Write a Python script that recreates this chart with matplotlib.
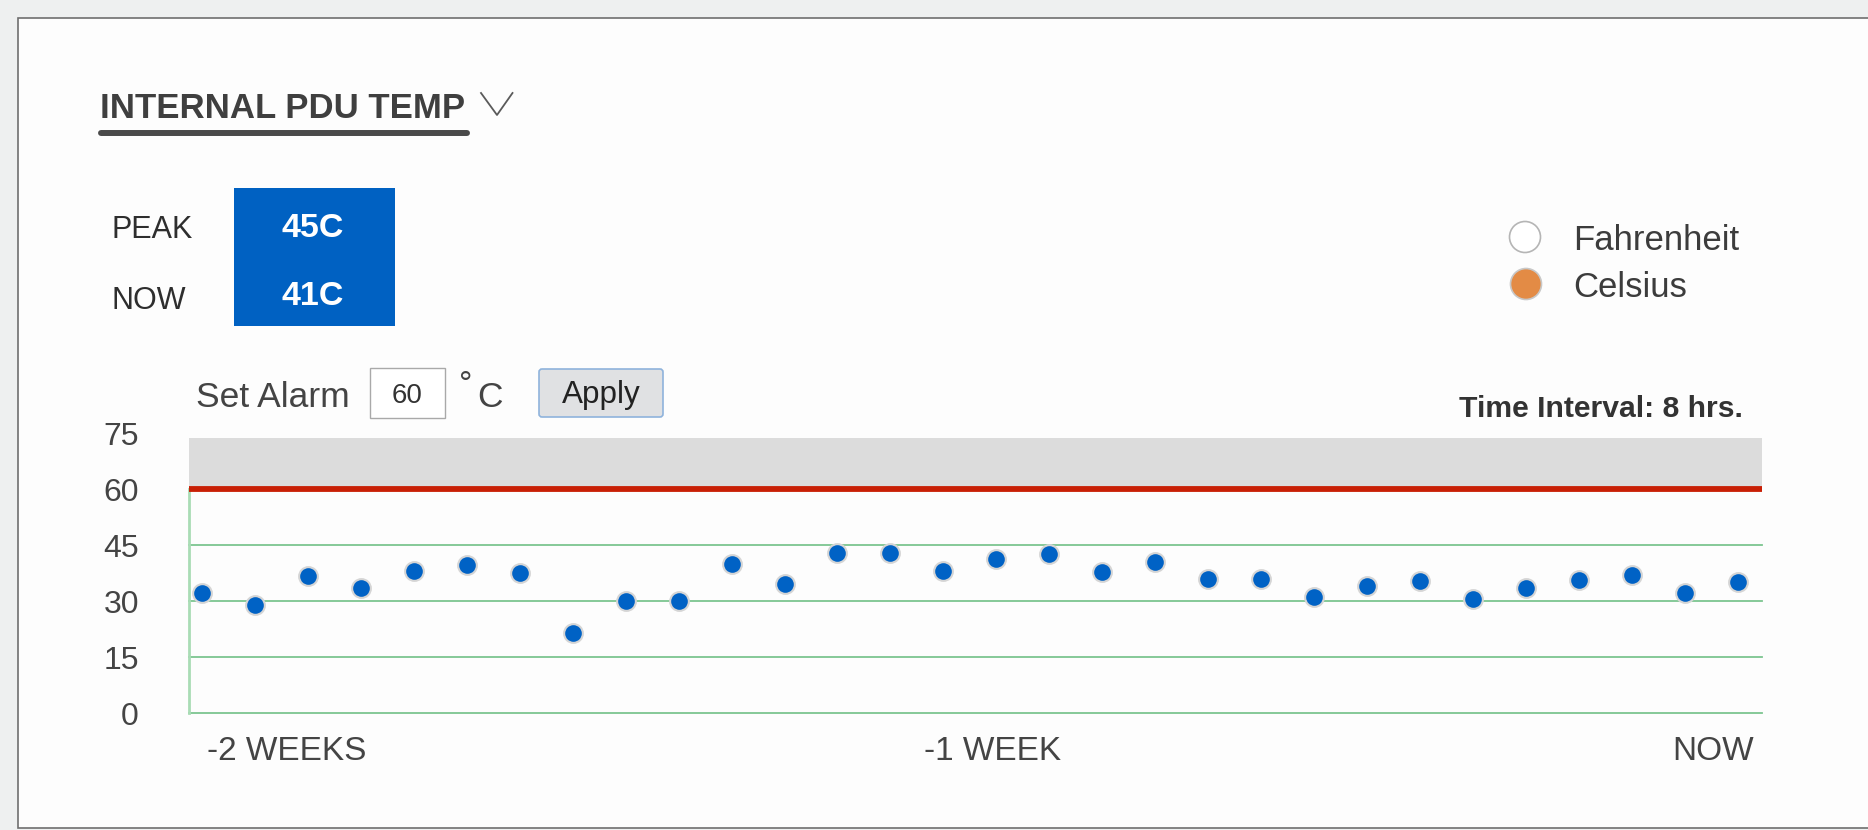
import matplotlib
matplotlib.use("Agg")
import matplotlib.pyplot as plt
from matplotlib.patches import Rectangle, Circle, FancyBboxPatch
from matplotlib.transforms import blended_transform_factory

plt.rcParams['font.family'] = ['Liberation Sans', 'DejaVu Sans']

# ---- data ----
temps = [32.2, 29.0, 36.8, 33.6, 38.2, 39.7, 37.5, 21.5, 30.0, 30.0,
         39.9, 34.5, 43.0, 43.0, 38.2, 41.2, 42.5, 37.7, 40.6, 36.0,
         36.0, 31.2, 34.0, 35.4, 30.5, 33.6, 35.6, 37.0, 32.1, 35.0]
y_ticks = [0, 15, 30, 45, 60, 75]
grid_levels = [0, 15, 30, 45]
alarm_level = 60
band_top = 73.7
x_label_pos = [0.1, 14.92, 29.3]
x_labels = ['-2 WEEKS', '-1 WEEK', 'NOW']
peak_text = '45C'
now_text = '41C'
alarm_text = '60'
interval_text = 'Time Interval: 8 hrs.'

W, H = 1868, 830
fig = plt.figure(figsize=(W / 100, H / 100), dpi=100)
fig.patch.set_facecolor('#eef0f0')

# background/decor axes in pixel coordinates
bg = fig.add_axes([0, 0, 1, 1], zorder=0)
bg.set_xlim(0, W)
bg.set_ylim(H, 0)
bg.axis('off')

txt = '#444444'

# card
bg.add_patch(Rectangle((18, 18), W, 810, facecolor='#fdfdfd', edgecolor='#6f6f6f', lw=1.2))

# title
bg.text(100, 118, 'INTERNAL PDU TEMP', fontsize=25, fontweight='bold', color='#3f3f3f', va='baseline', ha='left')
bg.plot([101, 467], [133, 133], color='#4a4a4a', lw=4.3, solid_capstyle='round')
bg.plot([481, 497, 512.5], [93, 115, 93], color='#5a5a5a', lw=1.3)

# peak / now
bg.text(112, 238, 'PEAK', fontsize=22, color='#2e2e2e', va='baseline', ha='left')
bg.text(111, 309, 'NOW', fontsize=22, color='#2e2e2e', va='baseline', ha='left')
bg.add_patch(Rectangle((233.5, 188), 161, 138, facecolor='#0061c2', edgecolor='none'))
bg.text(313, 237, peak_text, fontsize=24.5, fontweight='bold', color='white', va='baseline', ha='center')
bg.text(313, 305, now_text, fontsize=24.5, fontweight='bold', color='white', va='baseline', ha='center')

# set alarm row
bg.text(196, 407, 'Set Alarm', fontsize=25.5, color=txt, va='baseline', ha='left')
bg.add_patch(Rectangle((370, 368), 75, 50, facecolor='white', edgecolor='#a9a9a9', lw=1.0))
bg.text(407, 403, alarm_text, fontsize=20, color='#333333', va='baseline', ha='center')
bg.text(466, 394, '°', fontsize=24, color=txt, va='baseline', ha='center')
bg.text(477, 407, 'C', fontsize=25.5, color=txt, va='baseline', ha='left')
bg.add_patch(FancyBboxPatch((539, 369), 124, 48, boxstyle='round,pad=0,rounding_size=3',
                            facecolor='#e0e1e3', edgecolor='#8fb3dc', lw=1.2))
bg.text(601, 403, 'Apply', fontsize=22.7, color='#222222', va='baseline', ha='center')

# unit legend
bg.add_patch(Circle((1525, 237), 15.5, facecolor='white', edgecolor='#b5b5b5', lw=1.2))
bg.add_patch(Circle((1526, 284), 15.5, facecolor='#e38b45', edgecolor='#c8c8c8', lw=1.2))
bg.text(1573, 250, 'Fahrenheit', fontsize=25, color='#3c3c3c', va='baseline', ha='left')
bg.text(1573, 297, 'Celsius', fontsize=25, color='#3c3c3c', va='baseline', ha='left')

bg.text(1743, 417, interval_text, fontsize=21.7, fontweight='bold', color='#333333', va='baseline', ha='right')

# ---- chart axes ----
left_px, right_px = 189, 1762
y0_px, y75_px = 713, 433.25
ax = fig.add_axes([left_px / W, 1 - y0_px / H, (right_px - left_px) / W, (y0_px - y75_px) / H], zorder=2)
ax.set_facecolor('none')
n = len(temps)
xs = list(range(n))
ax.set_xlim(-0.24, 29.45)
ax.set_ylim(0, 75)

ax.axhspan(alarm_level, band_top, color='#dcdcdc', lw=0, zorder=1)
for g in grid_levels:
    ax.axhline(g, color='#7cc590', lw=1.3, zorder=2, clip_on=False)
ax.plot([-0.24, -0.24], [0, alarm_level], color='#a9dcb5', lw=2.0, zorder=2, clip_on=False)
ax.axhline(alarm_level, color='#c81f05', lw=4.2, zorder=3)

ax.plot(xs, temps, linestyle='none', marker='o', markersize=13.5,
        markerfacecolor='#0062c5', markeredgecolor='#d5d5d5', markeredgewidth=1.5, zorder=4)

for s in ax.spines.values():
    s.set_visible(False)
ax.set_yticks(y_ticks)
ax.set_yticklabels([str(t) for t in y_ticks])
ax.tick_params(axis='y', length=0, pad=36, labelsize=23, labelcolor=txt)
ax.set_xticks([])

tr = blended_transform_factory(ax.transData, bg.transData)
aligns = ['left', 'center', 'right']
for pos, lab, ha in zip(x_label_pos, x_labels, aligns):
    ax.text(pos, 760, lab, transform=tr, fontsize=24, color=txt, ha=ha, va='baseline')

fig.savefig('out.png', dpi=100, facecolor=fig.get_facecolor())
